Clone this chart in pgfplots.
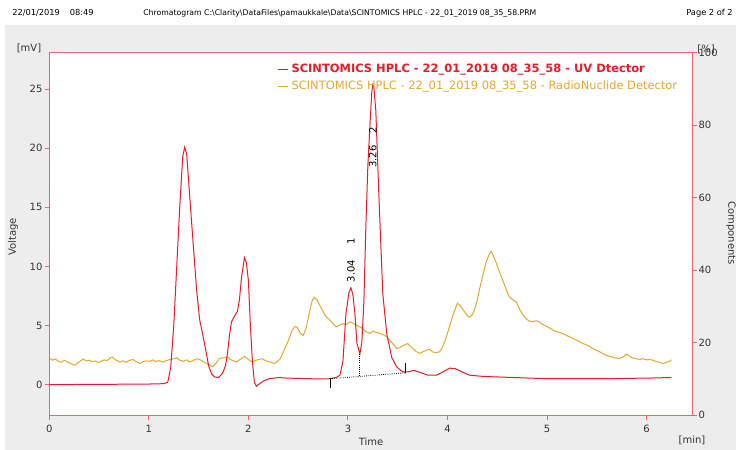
\documentclass[border=0pt]{standalone}
\usepackage{pgfplots}
\pgfplotsset{compat=1.18}
\usepackage{fontspec}
\setmainfont{DejaVu Sans}
\definecolor{bg}{HTML}{EDEDED}
\definecolor{axred}{RGB}{240,100,110}
\definecolor{uvred}{RGB}{232,28,40}
\definecolor{rnorange}{RGB}{228,168,48}
\definecolor{txt}{HTML}{333333}
\newcommand{\tl}{\fontsize{7.5}{8}\selectfont}

\begin{document}
\begin{tikzpicture}
\fill[white] (0,0) rectangle (552pt,337.5pt);
\fill[bg] (3.75pt,0) rectangle (552pt,318.75pt);

% ---- right axis (RadioNuclide detector, %)
\begin{axis}[at={(37pt,26pt)}, anchor=south west, scale only axis,
  width=482.25pt, height=272pt,
  xmin=0, xmax=6.46, ymin=0, ymax=100,
  axis background/.style={fill=white},
  hide x axis,
  axis y line*=right,
  y axis line style={draw=axred, line width=0.75pt},
  ytick={0,20,40,60,80,100},
  tick align=outside, major tick length=3.5pt,
  ytick style={draw=axred, line width=0.75pt},
  yticklabel style={font=\tl, text=txt, inner sep=1pt},
  /pgf/number format/assume math mode=true,
  clip=true]
\addplot[rnorange, line width=0.75pt] coordinates {
(0.00,15.9)(0.03,15.2)(0.06,15.5)(0.09,14.9)(0.12,14.6)(0.15,15.2)(0.18,14.7)(0.21,14.4)
(0.24,14.0)(0.26,13.8)(0.29,14.6)(0.32,15.1)(0.34,15.5)(0.37,15.0)(0.40,15.2)(0.43,14.8)
(0.46,15.0)(0.49,14.6)(0.52,14.9)(0.55,15.3)(0.58,15.1)(0.61,15.8)(0.63,16.1)(0.66,15.4)
(0.69,15.0)(0.71,14.7)(0.74,15.0)(0.77,14.6)(0.80,15.1)(0.84,15.4)(0.87,14.8)(0.91,14.3)
(0.94,14.8)(0.97,15.0)(1.01,14.9)(1.04,15.3)(1.07,14.8)(1.10,15.1)(1.14,14.7)(1.17,15.0)
(1.21,15.4)(1.25,15.6)(1.28,15.9)(1.31,15.2)(1.35,14.9)(1.38,15.3)(1.41,14.7)(1.44,15.0)
(1.48,15.6)(1.51,15.4)(1.54,14.9)(1.58,14.3)(1.61,13.9)(1.64,13.4)(1.67,14.2)(1.71,15.7)
(1.75,15.9)(1.79,16.1)(1.82,15.4)(1.85,15.0)(1.88,14.7)(1.91,15.3)(1.94,15.8)(1.96,16.3)
(1.99,15.6)(2.02,15.0)(2.04,14.7)(2.07,15.1)(2.10,15.4)(2.14,15.6)(2.17,15.1)(2.20,14.8)
(2.23,14.6)(2.26,14.3)(2.29,14.8)(2.32,15.6)(2.36,18.0)(2.40,20.5)(2.44,23.5)(2.47,24.5)
(2.49,24.3)(2.52,22.7)(2.55,22.0)(2.58,24.0)(2.61,28.0)(2.64,31.5)(2.66,32.6)(2.69,31.8)
(2.72,30.2)(2.75,28.6)(2.78,27.2)(2.81,26.5)(2.84,25.6)(2.88,24.4)(2.91,24.8)(2.95,25.3)
(2.98,25.0)(3.02,25.8)(3.05,25.4)(3.08,24.9)(3.12,24.4)(3.15,23.8)(3.18,23.1)(3.22,22.6)
(3.25,23.2)(3.28,22.9)(3.32,22.6)(3.35,22.3)(3.39,21.7)(3.42,20.7)(3.46,19.5)(3.49,18.4)
(3.52,18.7)(3.56,19.3)(3.60,19.8)(3.63,19.0)(3.66,18.2)(3.69,17.5)(3.72,17.1)(3.76,17.6)
(3.79,18.0)(3.82,18.2)(3.85,17.5)(3.88,17.3)(3.92,17.5)(3.95,18.8)(3.99,21.7)(4.02,24.5)
(4.04,26.3)(4.07,28.8)(4.10,30.9)(4.13,30.2)(4.16,29.0)(4.19,27.8)(4.22,27.0)(4.25,27.8)
(4.27,29.0)(4.30,31.8)(4.32,34.6)(4.35,38.0)(4.39,42.4)(4.42,44.5)(4.44,45.2)(4.46,44.0)
(4.49,42.0)(4.52,39.8)(4.56,36.9)(4.59,34.7)(4.62,32.7)(4.66,31.8)(4.69,31.3)(4.72,29.5)
(4.75,28.0)(4.79,26.7)(4.82,26.0)(4.86,25.8)(4.89,26.1)(4.92,25.8)(4.96,25.0)(5.00,24.5)
(5.03,24.0)(5.06,23.5)(5.10,23.0)(5.13,22.8)(5.16,22.5)(5.19,22.1)(5.23,21.6)(5.26,21.2)
(5.29,20.8)(5.33,20.3)(5.36,19.8)(5.39,19.5)(5.43,19.0)(5.46,18.4)(5.49,18.0)(5.53,17.5)
(5.56,17.0)(5.59,16.6)(5.63,16.3)(5.66,16.0)(5.69,15.8)(5.73,15.7)(5.76,16.0)(5.80,16.9)
(5.83,16.3)(5.86,15.8)(5.90,15.6)(5.93,15.4)(5.96,15.6)(6.00,15.3)(6.03,15.4)(6.06,15.2)
(6.10,14.8)(6.13,14.6)(6.16,14.3)(6.19,14.5)(6.22,14.8)(6.25,15.3)
};
\end{axis}

% ---- left axis (UV detector, mV)
\begin{axis}[at={(37pt,26pt)}, anchor=south west, scale only axis,
  width=482.25pt, height=272pt,
  xmin=0, xmax=6.46, ymin=-2.6, ymax=28.1,
  axis line style={draw=axred, line width=0.75pt},
  xtick={0,1,2,3,4,5,6}, ytick={0,5,10,15,20,25},
  xtick pos=bottom, ytick pos=left,
  tick align=outside, major tick length=3.5pt,
  tick style={draw=axred, line width=0.75pt},
  ticklabel style={font=\tl, text=txt},
  yticklabel style={inner sep=1.5pt},
  /pgf/number format/assume math mode=true,
  legend style={at={(0.354,0.977)}, anchor=north west, draw=none, fill=none,
    inner sep=0pt, row sep=0.8pt, font=\fontsize{8.6}{10}\selectfont},
  legend cell align=left,
  legend image code/.code={\draw[#1] (0pt,0pt) -- (8pt,0pt);},
  clip=true]
\addplot[uvred, line width=0.75pt] coordinates {
(0,0.0)(0.5,0.02)(1.0,0.05)(1.15,0.08)(1.19,0.2)(1.22,1.5)(1.25,5.0)(1.28,10.0)
(1.31,15.0)(1.34,19.3)(1.36,20.1)(1.38,19.5)(1.41,16.0)(1.44,12.5)(1.48,8.0)(1.51,5.5)
(1.54,4.3)(1.57,3.0)(1.60,1.6)(1.63,0.9)(1.66,0.65)(1.70,0.6)(1.74,0.95)(1.77,1.6)
(1.79,2.65)(1.81,4.2)(1.83,5.3)(1.86,5.8)(1.89,6.2)(1.91,7.2)(1.93,9.0)(1.96,10.75)
(1.98,10.3)(2.00,8.8)(2.02,5.0)(2.04,2.0)(2.06,0.2)(2.08,-0.15)(2.10,0.0)(2.15,0.3)
(2.21,0.5)(2.30,0.6)(2.40,0.55)(2.60,0.5)(2.80,0.48)(2.88,0.6)(2.92,0.8)(2.95,2.0)
(2.98,6.0)(3.01,7.8)(3.03,8.2)(3.05,7.6)(3.07,6.0)(3.09,3.5)(3.12,2.6)(3.14,3.6)
(3.16,7.0)(3.18,13.4)(3.20,18.5)(3.22,21.8)(3.24,24.8)(3.25,25.4)(3.26,25.2)(3.28,23.2)
(3.31,16.2)(3.35,7.7)(3.39,4.3)(3.44,2.3)(3.49,1.5)(3.55,1.07)(3.60,1.07)(3.66,1.2)
(3.72,1.05)(3.80,0.8)(3.89,0.8)(3.96,1.1)(4.02,1.4)(4.08,1.35)(4.14,1.1)(4.22,0.8)
(4.35,0.7)(4.50,0.65)(5.00,0.5)(5.50,0.5)(6.00,0.55)(6.25,0.6)
};
\addlegendentry{\textcolor{uvred}{\bfseries SCINTOMICS HPLC - 22\_01\_2019 08\_35\_58 - UV Dtector}}
\addlegendimage{rnorange, line width=0.75pt}
\addlegendentry{\textcolor{rnorange}{SCINTOMICS HPLC - 22\_01\_2019 08\_35\_58 - RadioNuclide Detector}}
% baseline / integration marks
\draw[densely dotted, black, line width=0.6pt] (axis cs:2.82,0.5) -- (axis cs:3.58,1.0);
\draw[densely dotted, black, line width=0.6pt] (axis cs:3.12,2.6) -- (axis cs:3.12,0.7);
\draw[black, line width=0.5pt] (axis cs:2.82,0.5) -- (axis cs:2.82,-0.3);
\draw[black, line width=0.5pt] (axis cs:3.58,1.0) -- (axis cs:3.58,1.8);
\node[rotate=90, font=\tl, text=black] at (axis cs:3.03,9.6) {3.04};
\node[rotate=90, font=\tl, text=black] at (axis cs:3.03,12.1) {1};
\node[rotate=90, font=\tl, text=black] at (axis cs:3.25,19.3) {3.26};
\node[rotate=90, font=\tl, text=black] at (axis cs:3.25,21.55) {2};
\end{axis}

% ---- surrounding texts (pixel coordinates)
\begin{scope}[x=0.75pt, y=-0.75pt, yshift=337.5pt]
\node[anchor=west, inner sep=0pt, font=\fontsize{6.2}{7}\selectfont, text=black] at (12,13) {22/01/2019\hspace{7.5pt}08:49};
\node[anchor=west, inner sep=0pt, font=\fontsize{5.8}{7}\selectfont, text=black] at (143,13) {Chromatogram C:\textbackslash Clarity\textbackslash DataFiles\textbackslash pamaukkale\textbackslash Data\textbackslash SCINTOMICS HPLC - 22\_01\_2019 08\_35\_58.PRM};
\node[anchor=east, inner sep=0pt, font=\fontsize{6.2}{7}\selectfont, text=black] at (733,13) {Page 2 of 2};
\node[inner sep=0pt, font=\tl, text=txt] at (29,48) {[mV]};
\node[inner sep=0pt, font=\tl, text=txt, rotate=90] at (13,237) {Voltage};
\node[inner sep=0pt, font=\tl, text=txt, rotate=-90] at (731,233) {Components};
\node[inner sep=0pt, font=\tl, text=txt] at (371,442) {Time};
\node[inner sep=0pt, font=\tl, text=txt] at (692,440) {[min]};
\node[inner sep=0pt, font=\tl, text=txt] at (706,49) {[\%]};
\end{scope}
\end{tikzpicture}
\end{document}
